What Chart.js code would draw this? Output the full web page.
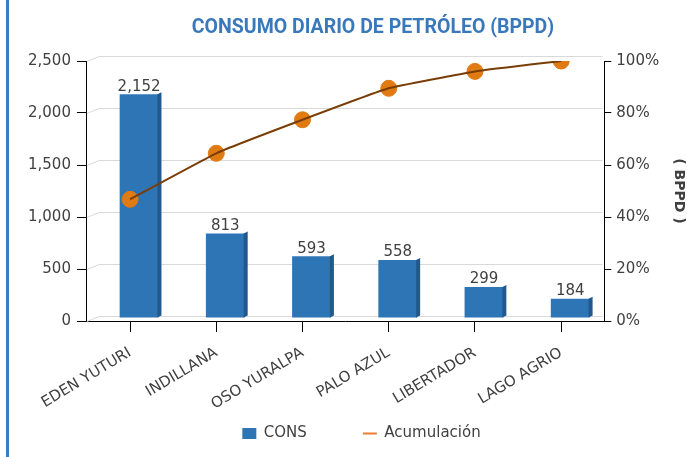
<!DOCTYPE html>
<html>
<head>
<meta charset="utf-8">
<script src="https://cdn.jsdelivr.net/npm/chart.js@4.4.1/dist/chart.umd.min.js"></script>
<style>
  html, body { margin: 0; padding: 0; background: #fff; }
  #wrap { position: relative; width: 687px; height: 457px; }
  #edge { position: absolute; left: 6px; top: 0; width: 3px; height: 457px; background: #3b7dc4; }
  canvas { position: absolute; left: 0; top: 0; }
</style>
</head>
<body>
<div id="wrap">
  <div id="edge"></div>
  <canvas id="chart" width="687" height="457"></canvas>
</div>
<script>
// datos del grafico
const campos = ['EDEN YUTURI', 'INDILLANA', 'OSO YURALPA', 'PALO AZUL', 'LIBERTADOR', 'LAGO AGRIO'];
const consumo = [2152, 813, 593, 558, 299, 184];
const acumulado = [46.8, 64.5, 77.4, 89.5, 96.0, 100];
const titulo = 'CONSUMO DIARIO DE PETRÓLEO (BPPD)';

const txt = '#404040';
const fuente = '"DejaVu Sans", sans-serif';
const prof = { dx: 9, dy: -5 }; // profundidad del efecto 3d

// titulo + lineas de fondo con perspectiva
const fondo = {
  id: 'fondo',
  afterLayout(chart) {
    // etiquetas del eje x pueden bajar hasta la leyenda sin recortarse
    chart.scales.x.bottom = chart.height;
    chart.legend.left += 7;
    chart.legend.right += 7;
  },
  beforeDatasetsDraw(chart) {
    const ctx = chart.ctx;
    const a = chart.chartArea;
    const y = chart.scales.y;
    ctx.save();
    ctx.strokeStyle = '#d9d9d9';
    ctx.lineWidth = 1;
    y.ticks.forEach(t => {
      const py = Math.round(y.getPixelForValue(t.value)) + 0.5;
      ctx.beginPath();
      ctx.moveTo(a.left, py);
      ctx.lineTo(a.left + prof.dx + 3, py + prof.dy);
      ctx.lineTo(a.right - 2, py + prof.dy);
      ctx.stroke();
    });
    ctx.restore();
  },
  afterDraw(chart) {
    const ctx = chart.ctx;
    ctx.save();
    ctx.fillStyle = '#3a78bc';
    ctx.font = 'bold 19.5px Roboto';
    ctx.textAlign = 'center';
    ctx.textBaseline = 'alphabetic';
    ctx.fillText(titulo, (chart.chartArea.left + chart.width) / 2 - 14, 33);
    ctx.restore();
  }
};

// barras desplazadas al fondo, lado oscuro y etiquetas de valor
const barras3d = {
  id: 'barras3d',
  beforeDatasetDraw(chart, args) {
    if (args.meta.type !== 'bar') return;
    chart.ctx.save();
    chart.ctx.translate(prof.dx, -3);
  },
  afterDatasetDraw(chart, args) {
    if (args.meta.type !== 'bar') return;
    const ctx = chart.ctx;
    args.meta.data.forEach((bar, i) => {
      const half = bar.width / 2;
      ctx.fillStyle = '#22588b';
      ctx.beginPath();
      ctx.moveTo(bar.x + half - 1, bar.y);
      ctx.lineTo(bar.x + half + 3, bar.y - 2);
      ctx.lineTo(bar.x + half + 3, bar.base - 2);
      ctx.lineTo(bar.x + half - 1, bar.base);
      ctx.closePath();
      ctx.fill();
      ctx.fillStyle = txt;
      ctx.font = '15px ' + fuente;
      ctx.textAlign = 'center';
      ctx.textBaseline = 'bottom';
      ctx.fillText(consumo[i].toLocaleString('en-US'), bar.x, bar.y);
    });
    ctx.restore();
  }
};

new Chart(document.getElementById('chart'), {
  data: {
    labels: campos,
    datasets: [
      {
        // linea por encima de los puntos
        type: 'line',
        label: 'Acumulación',
        data: acumulado,
        yAxisID: 'y2',
        borderColor: '#7a3d06',
        borderWidth: 2,
        pointRadius: 0,
        pointHoverRadius: 0,
        tension: 0.1,
        order: 0
      },
      {
        type: 'line',
        label: 'puntos',
        data: acumulado,
        yAxisID: 'y2',
        showLine: false,
        pointBackgroundColor: '#e07a12',
        pointBorderColor: '#e07a12',
        pointRadius: 8,
        pointHoverRadius: 8,
        order: 1
      },
      {
        type: 'bar',
        label: 'CONS',
        data: consumo,
        yAxisID: 'y',
        backgroundColor: '#2e75b6',
        barPercentage: 0.45,
        categoryPercentage: 1,
        order: 2
      }
    ]
  },
  options: {
    responsive: false,
    animation: false,
    layout: { padding: { left: 22, right: 0, top: 61, bottom: 6 } },
    plugins: {
      legend: {
        position: 'bottom',
        reverse: true,
        labels: {
          color: txt,
          font: { family: fuente, size: 15 },
          usePointStyle: true,
          pointStyleWidth: 14,
          boxHeight: 11,
          padding: 56,
          filter: l => l.text !== 'puntos',
          generateLabels(chart) {
            const base = Chart.defaults.plugins.legend.labels.generateLabels(chart);
            base.forEach(l => {
              if (l.text === 'Acumulación') {
                l.pointStyle = 'line';
                l.strokeStyle = '#ed7d31';
                l.lineWidth = 2;
              } else {
                l.pointStyle = 'rect';
                l.fillStyle = '#2e75b6';
                l.strokeStyle = '#2e75b6';
              }
            });
            return base;
          }
        }
      },
      tooltip: { enabled: false }
    },
    scales: {
      x: {
        grid: { display: true, drawOnChartArea: false, offset: false, tickLength: 11, color: '#000' },
        border: { color: '#000' },
        ticks: {
          color: txt,
          font: { family: fuente, size: 15 },
          minRotation: 31,
          maxRotation: 31,
          padding: 12
        },
        afterFit(scale) { scale.height = 49; }
      },
      y: {
        position: 'left',
        min: 0,
        max: 2500,
        grid: { drawOnChartArea: false, tickLength: 10, color: '#000' },
        border: { color: '#000' },
        ticks: {
          stepSize: 500,
          color: txt,
          font: { family: fuente, size: 15 },
          padding: 6,
          callback: v => v.toLocaleString('en-US')
        }
      },
      y2: {
        position: 'right',
        min: 0,
        max: 100,
        grid: { drawOnChartArea: false, tickLength: 7, color: '#000' },
        border: { color: '#000' },
        ticks: {
          stepSize: 20,
          color: txt,
          font: { family: fuente, size: 15 },
          padding: 5,
          callback: v => v + '%'
        },
        title: {
          display: true,
          text: '( BPPD )',
          color: txt,
          font: { family: fuente, size: 14, weight: 'bold' },
          padding: { top: 0, bottom: 6 }
        }
      }
    }
  },
  plugins: [fondo, barras3d]
});
</script>
</body>
</html>
